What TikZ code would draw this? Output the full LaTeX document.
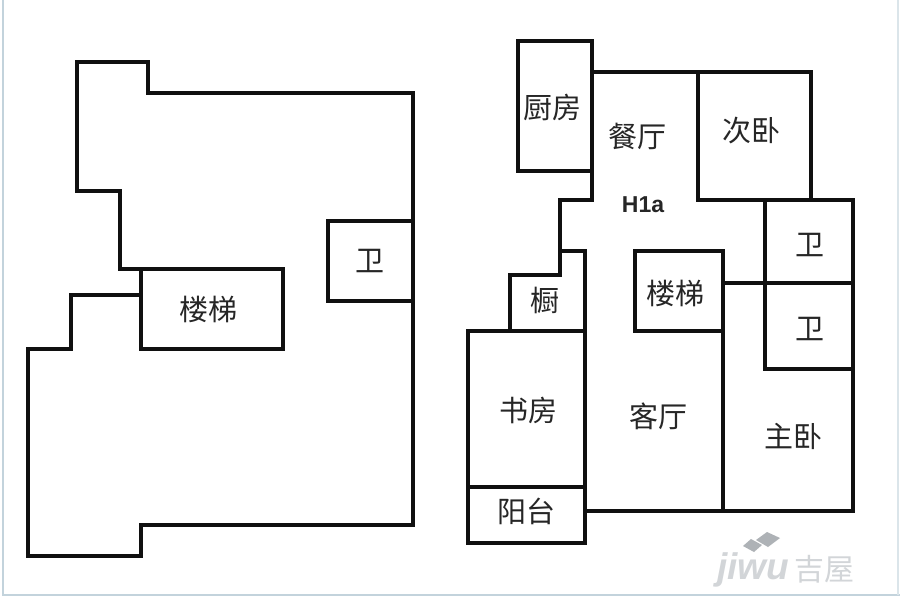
\documentclass[tikz,border=0pt]{standalone}
\usepackage{fontspec}
\setmainfont{Liberation Sans}
\newfontfamily\cjk{Noto Sans CJK SC}
\definecolor{framec}{HTML}{C3D3DC}
\definecolor{wallc}{HTML}{101010}
\definecolor{wmc}{HTML}{D2D5D8}
\definecolor{wmd}{HTML}{AEB2B6}
\tikzset{
  wall/.style={draw=wallc,line width=3.3pt,line cap=square,line join=miter},
  room/.style={font=\cjk\fontsize{29}{29}\selectfont,text=black!85,inner sep=0pt},
  code/.style={font=\bfseries\fontsize{23}{23}\selectfont,text=black!85,inner sep=0pt},
  frameline/.style={draw=framec,line width=1.4pt},
  wm/.style={text=wmc,inner sep=0pt},
}
\begin{document}
\begin{tikzpicture}[x=1pt,y=-1pt]
\useasboundingbox (0,0) rectangle (900,600);
\fill[white] (0,0) rectangle (900,600);
% frame
\draw[frameline] (3,0) -- (3,595) -- (900,595);
\draw[frameline,draw=framec!60] (898,0) -- (898,595);
% left plan
\draw[wall] (141,295) -- (71,295) -- (71,349) -- (28,349) -- (28,556) -- (141,556) -- (141,525) -- (413,525) -- (413,93) -- (148,93) -- (148,62) -- (77,62) -- (77,191) -- (120,191) -- (120,269) -- (141,269);
\draw[wall] (141,269) rectangle (283,349);
\draw[wall] (413,221) -- (328,221) -- (328,301) -- (413,301);
% right plan
\draw[wall] (518,41) rectangle (592,171);
\draw[wall] (592,72) -- (811,72) -- (811,200);
\draw[wall] (698,72) -- (698,200) -- (853,200) -- (853,511) -- (585,511);
\draw[wall] (592,171) -- (592,200) -- (560,200) -- (560,275) -- (510,275) -- (510,331);
\draw[wall] (560,251) -- (585,251) -- (585,543);
\draw[wall] (468,331) rectangle (585,543);
\draw[wall] (468,487) -- (585,487);
\draw[wall] (635,251) rectangle (723,331);
\draw[wall] (723,331) -- (723,511);
\draw[wall] (723,283) -- (853,283);
\draw[wall] (765,200) -- (765,369) -- (853,369);
% labels
\node[room] (stairL) at (208,309) {楼梯};
\node[room] (wcL) at (370,261) {卫};
\node[room] (kitchen) at (552,107) {厨房};
\node[room] (dining) at (637,136) {餐厅};
\node[room] (bed2) at (751,131) {次卧};
\node[code] (h1a) at (643,205) {H1a};
\node[room] (wc1) at (810,245) {卫};
\node[room] (wc2) at (810,329) {卫};
\node[room] (stairR) at (675,293) {楼梯};
\node[room] (closet) at (545,300) {橱};
\node[room] (study) at (528,410) {书房};
\node[room] (living) at (658,416) {客厅};
\node[room] (master) at (793,436) {主卧};
\node[room] (balcony) at (526,511) {阳台};
% watermark
\fill[wmd] (756,540) -- (767,532) -- (780,538) -- (768,547) -- cycle;
\fill[wmd] (743,546) -- (751,539) -- (762,545) -- (754,552) -- cycle;
\node[wm,font=\bfseries\itshape\fontsize{37}{37}\selectfont] (wmlatin) at (753,570) {jiwu};
\node[wm,font=\cjk\fontsize{30}{30}\selectfont] (wmcjk) at (824,569) {吉屋};
\end{tikzpicture}
\end{document}
